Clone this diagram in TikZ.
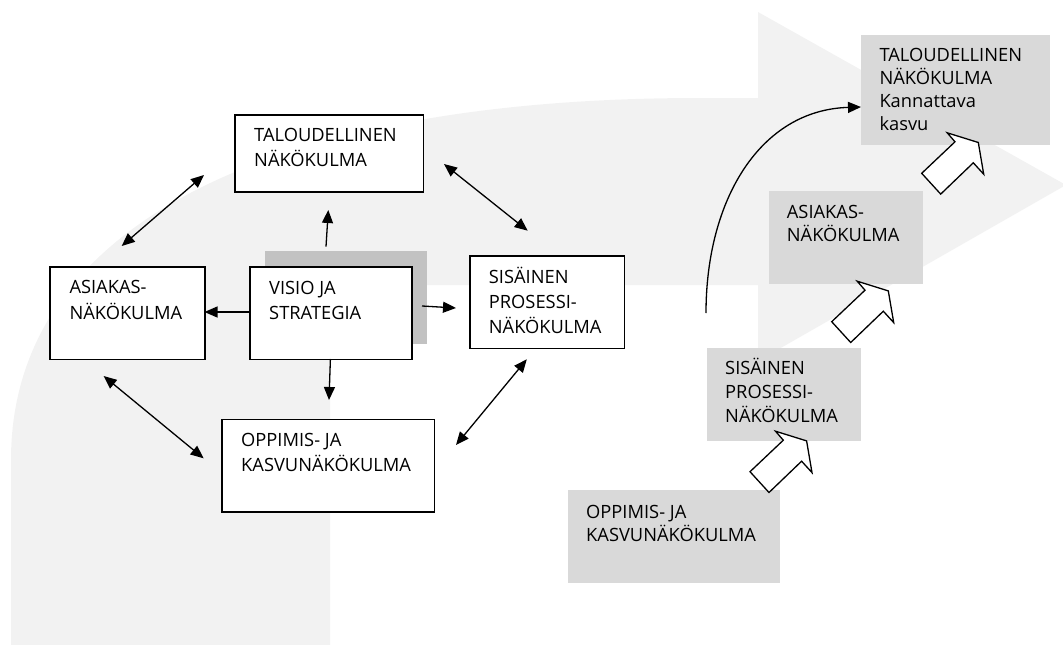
\documentclass[tikz,border=0pt]{standalone}
\usepackage{fontspec}
\setmainfont{Open Sans}
\usetikzlibrary{arrows.meta}
\definecolor{bandgray}{HTML}{F2F2F2}
\definecolor{boxgray}{HTML}{D9D9D9}
\definecolor{shadowgray}{HTML}{C2C2C2}
\newcommand{\mylines}[2][23.5pt]{\vtop{\baselineskip=#1\relax\lineskiplimit=-16000pt\relax #2}}
\begin{document}
\begin{tikzpicture}[x=1pt,y=-1pt,
  wbox/.style={draw=black, line width=1.6pt, fill=white, anchor=north west, inner sep=0pt},
  gbox/.style={fill=boxgray, anchor=north west, inner sep=0pt},
  shbox/.style={fill=shadowgray, anchor=north west, inner sep=0pt},
  txt/.style={anchor=base west, inner sep=0pt, font=\fontsize{18.3pt}{23.5pt}\selectfont},
  arr/.style={line width=1.3pt, -{Triangle[length=13pt,width=11pt]}},
  darr/.style={line width=1.3pt, {Triangle[length=13pt,width=11pt]}-{Triangle[length=13pt,width=11pt]}},
  blockarrow/.pic={\draw[fill=white, line width=1.3pt, line join=miter]
    (0,0) -- (33.3,-31.5) -- (25.5,-40.5) -- (56.6,-30.8) -- (62,0.9) -- (51.6,-10.5) -- (19,20.8) -- cycle;}
]
\useasboundingbox (0,0) rectangle (1063,645);
% background bent arrow
\fill[bandgray] (11,645) -- (11,460) .. controls (11,220) and (280,98) .. (700,98)
  -- (758,98) -- (758,12) -- (1066,185) -- (758,361) -- (758,285) -- (330,285) -- (330,645) -- cycle;

% left cycle
\node[shbox, minimum width=162.7pt, minimum height=92.7pt] (vis-sh) at (264.3,251) {};
\node[wbox, minimum width=188.4pt, minimum height=76.7pt] (tal) at (234.3,114.3) {};
\node[wbox, minimum width=155pt, minimum height=92.7pt] (asi) at (49.3,266) {};
\node[wbox, minimum width=162pt, minimum height=92.5pt] (vis) at (249.3,266) {};
\node[wbox, minimum width=154.2pt, minimum height=92.5pt] (sis) at (469.3,255) {};
\node[wbox, minimum width=212.5pt, minimum height=92.6pt] (opp) at (221,418.7) {};

\node[txt] (tal-t) at (254,141.7) {\mylines[25pt]{\hbox{TALOUDELLINEN}\hbox{NÄKÖKULMA}}};
\node[txt] (asi-t) at (69.3,293.5) {\mylines[25.5pt]{\hbox{ASIAKAS-}\hbox{NÄKÖKULMA}}};
\node[txt] (vis-t) at (269,294.3) {\mylines[25pt]{\hbox{VISIO JA}\hbox{STRATEGIA}}};
\node[txt] (sis-t) at (488.7,283.3) {\mylines[25.3pt]{\hbox{SISÄINEN}\hbox{PROSESSI-}\hbox{NÄKÖKULMA}}};
\node[txt] (opp-t) at (241,446.7) {\mylines[25pt]{\hbox{OPPIMIS- JA}\hbox{KASVUNÄKÖKULMA}}};

% arrows of left cycle
\coordinate (a1s) at (326,246.7);   \coordinate (a1e) at (328.3,210);
\coordinate (a2s) at (249.3,312);   \coordinate (a2e) at (204.5,312);
\coordinate (a3s) at (422,306);     \coordinate (a3e) at (456,308);
\coordinate (a4s) at (330.4,359);   \coordinate (a4e) at (329,400);
\coordinate (d1s) at (121.7,246);   \coordinate (d1e) at (204,175);
\coordinate (d2s) at (444,164);     \coordinate (d2e) at (527.7,230.7);
\coordinate (d3s) at (103.6,376);   \coordinate (d3e) at (203.6,458.3);
\coordinate (d4s) at (456,445);     \coordinate (d4e) at (526.8,359.3);
\draw[arr] (a1s) -- (a1e);
\draw[arr] (a2s) -- (a2e);
\draw[arr] (a3s) -- (a3e);
\draw[arr] (a4s) -- (a4e);
\draw[darr] (d1s) -- (d1e);
\draw[darr] (d2s) -- (d2e);
\draw[darr] (d3s) -- (d3e);
\draw[darr] (d4s) -- (d4e);

% right staircase
\node[gbox, minimum width=189pt, minimum height=110pt] (gtal) at (861,34.3) {};
\node[gbox, minimum width=154.4pt, minimum height=92.7pt] (gasi) at (768.3,191) {};
\node[gbox, minimum width=154.5pt, minimum height=92.7pt] (gsis) at (706.5,348) {};
\node[gbox, minimum width=212.7pt, minimum height=92.7pt] (gopp) at (567.3,490) {};

\node[txt] (gtal-t) at (879.3,61) {\mylines[23pt]{\hbox{TALOUDELLINEN}\hbox{NÄKÖKULMA}\hbox{Kannattava}\hbox{kasvu}}};
\node[txt] (gasi-t) at (786.7,218.3) {\mylines[23.5pt]{\hbox{ASIAKAS-}\hbox{NÄKÖKULMA}}};
\node[txt] (gsis-t) at (725,374) {\mylines[24pt]{\hbox{SISÄINEN}\hbox{PROSESSI-}\hbox{NÄKÖKULMA}}};
\node[txt] (gopp-t) at (586,518.3) {\mylines[23.5pt]{\hbox{OPPIMIS- JA}\hbox{KASVUNÄKÖKULMA}}};

\coordinate (cs) at (706,313);
\coordinate (ce) at (861,107);
\draw[arr] (cs) .. controls (706,200) and (760,110) .. (ce);

\pic at (921.7,173.3) {blockarrow};
\pic at (831.7,321.7) {blockarrow};
\pic at (750,471.7) {blockarrow};
\end{tikzpicture}
\end{document}
